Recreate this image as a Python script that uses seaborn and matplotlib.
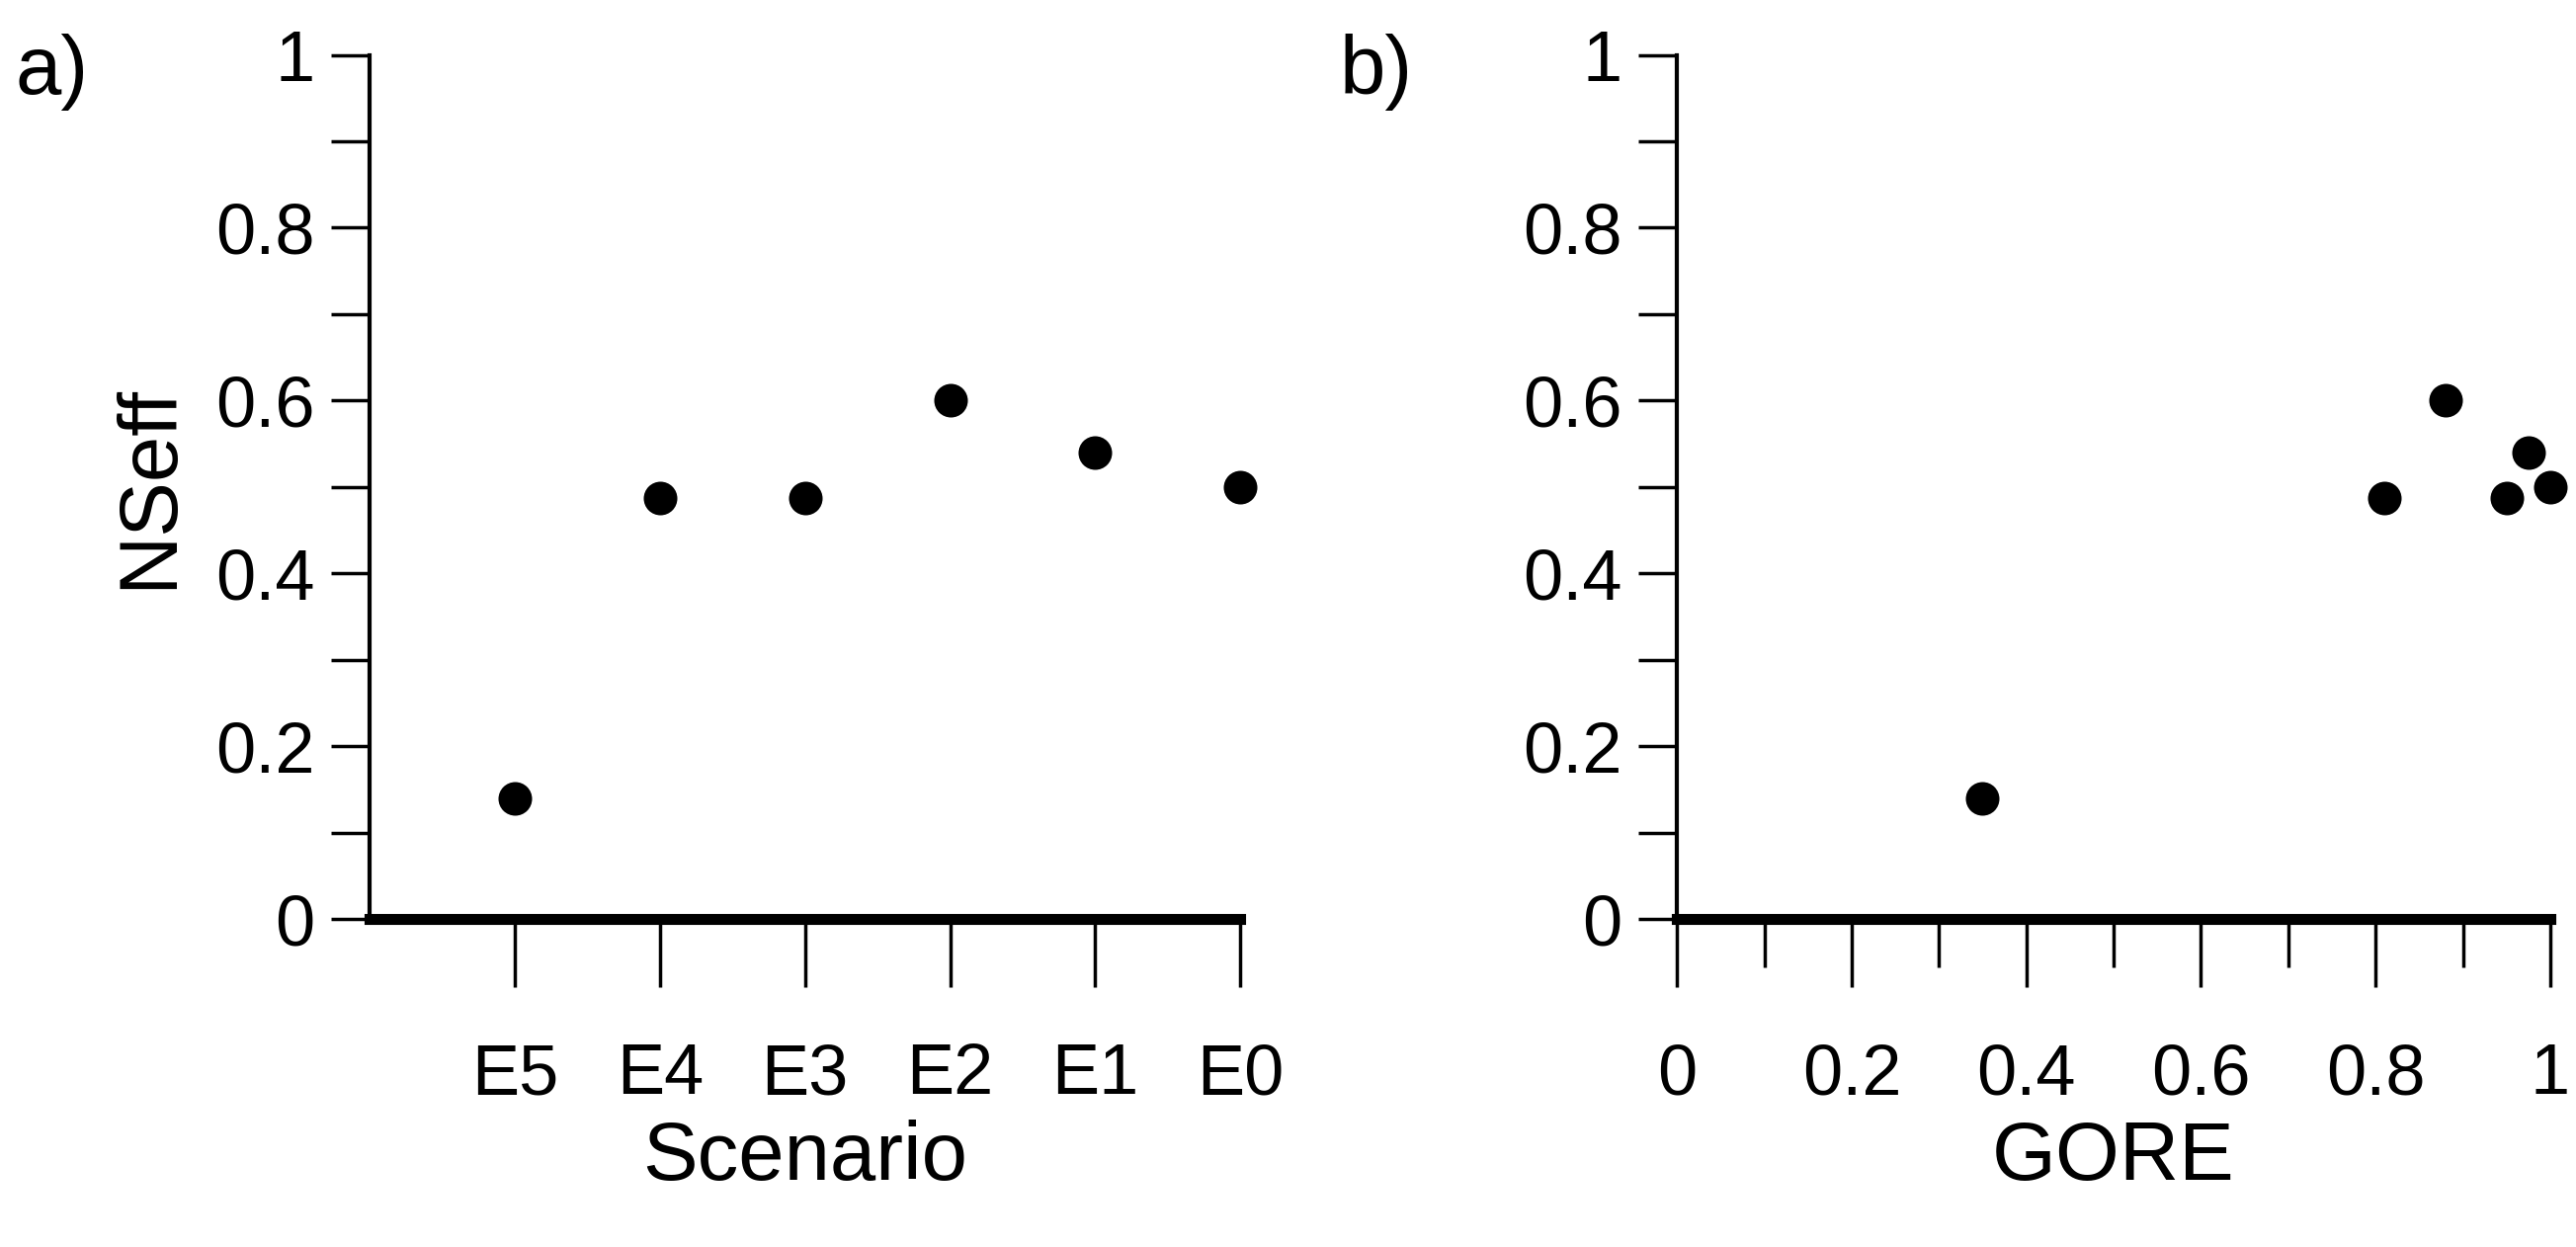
import numpy as np
import pandas as pd
import seaborn as sns
import matplotlib.pyplot as plt

scenarios = ["E5", "E4", "E3", "E2", "E1", "E0"]
nseff = [0.14, 0.487, 0.487, 0.60, 0.54, 0.50]
gore = [0.35, 0.81, 0.95, 0.88, 0.975, 1.0]
y_ticks = [0, 0.2, 0.4, 0.6, 0.8, 1.0]
y_labels = ["0", "0.2", "0.4", "0.6", "0.8", "1"]

sns.set_style("white")
plt.rcParams['font.family'] = ['Liberation Sans', 'DejaVu Sans']
plt.rcParams['text.color'] = 'black'
plt.rcParams['axes.labelcolor'] = 'black'
plt.rcParams['xtick.color'] = 'black'
plt.rcParams['ytick.color'] = 'black'

df = pd.DataFrame({"Scenario": scenarios, "GORE": gore, "NSeff": nseff})
df["pos"] = np.arange(1, len(scenarios) + 1)

fig = plt.figure(figsize=(26.07, 12.62), dpi=100)
ax1 = fig.add_axes([0.1435, 0.263, 0.338, 0.693])
ax2 = fig.add_axes([0.651, 0.263, 0.339, 0.693])

fs = 52
for ax, xcol in [(ax1, "pos"), (ax2, "GORE")]:
    sns.scatterplot(data=df, x=xcol, y="NSeff", ax=ax, color="black", s=600,
                    edgecolor="black", linewidth=0, clip_on=False, zorder=5)
    ax.set_ylim(0, 1)
    ax.set_yticks(y_ticks)
    ax.set_yticklabels(y_labels)
    ax.set_yticks(np.arange(0.1, 1.0, 0.2), minor=True)
    ax.tick_params(axis="y", which="both", direction="out", length=28, width=2.5,
                   labelsize=fs, pad=12, left=True)
    for s in ["top", "right"]:
        ax.spines[s].set_visible(False)
    ax.spines["left"].set_linewidth(3)
    ax.spines["bottom"].set_linewidth(8)
    ax.spines["bottom"].set_color("black")
    ax.spines["left"].set_color("black")

ax1.set_xlim(0, 6)
ax1.set_xticks(df["pos"])
ax1.set_xticklabels(scenarios)
ax1.tick_params(axis="x", direction="out", length=50, width=2.5, labelsize=fs,
                pad=40, bottom=True)
ax1.set_xlabel("Scenario", fontsize=60, labelpad=8)
ax1.set_ylabel("NSeff", fontsize=60, labelpad=20)

ax2.set_xlim(0, 1)
ax2.set_xticks(y_ticks)
ax2.set_xticklabels(y_labels)
ax2.set_xticks(np.arange(0.1, 1.0, 0.2), minor=True)
ax2.tick_params(axis="x", which="major", direction="out", length=50, width=2.5,
                labelsize=fs, pad=40, bottom=True)
ax2.tick_params(axis="x", which="minor", direction="out", length=35, width=2.5,
                bottom=True)
ax2.set_xlabel("GORE", fontsize=60, labelpad=8)
ax2.set_ylabel("")

fig.text(0.006, 0.925, "a)", fontsize=60)
fig.text(0.52, 0.925, "b)", fontsize=60)

fig.savefig("out.png", dpi=100)
